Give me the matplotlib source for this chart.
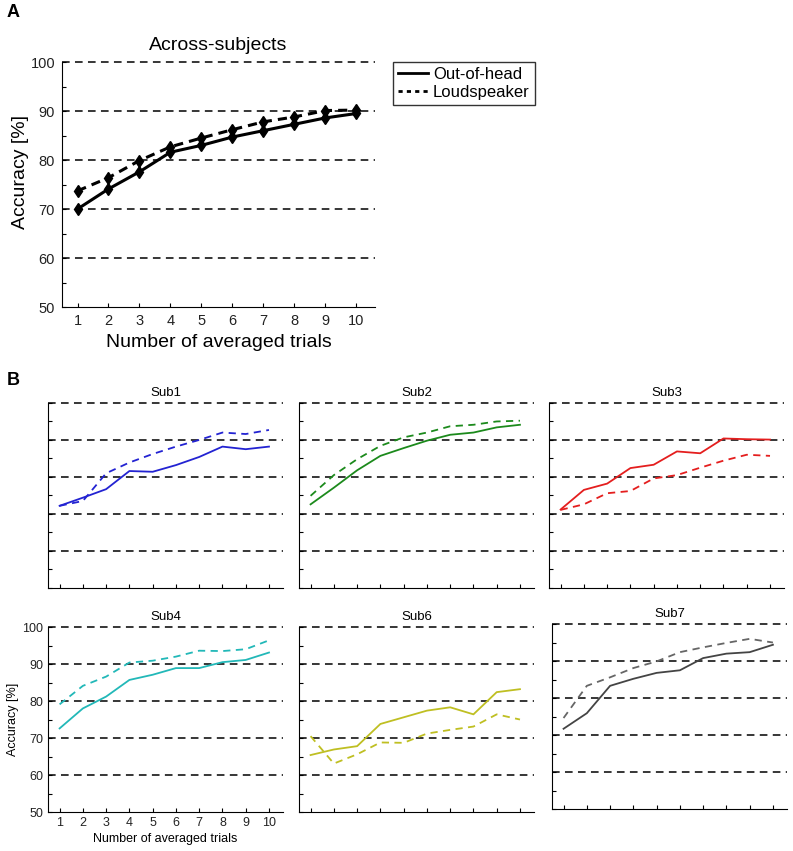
import matplotlib
matplotlib.use("Agg")
import matplotlib.pyplot as plt
import numpy as np

plt.rcParams['font.family'] = ['Liberation Sans', 'DejaVu Sans']

trials = np.arange(1, 11)

# across-subjects averages
avg_ooh = [70.0, 74.1, 77.6, 81.6, 83.0, 84.7, 86.0, 87.3, 88.6, 89.5]
avg_ls = [73.7, 76.4, 79.9, 82.7, 84.5, 86.2, 87.8, 88.8, 90.1, 90.2]

# single subjects
sub_names = ['Sub1', 'Sub2', 'Sub3', 'Sub4', 'Sub6', 'Sub7']
sub_ooh = [
    [72.2, 74.4, 76.7, 81.6, 81.4, 83.2, 85.4, 88.2, 87.5, 88.2],
    [72.6, 77.1, 81.8, 85.7, 87.8, 89.8, 91.4, 92.0, 93.4, 94.1],
    [71.2, 76.5, 78.2, 82.4, 83.3, 86.9, 86.4, 90.4, 90.2, 90.1],
    [72.6, 78.0, 81.2, 85.7, 87.1, 88.9, 88.9, 90.5, 91.1, 93.1],
    [65.4, 66.9, 67.8, 73.8, 75.6, 77.4, 78.3, 76.4, 82.4, 83.2],
    [71.7, 75.9, 83.3, 85.2, 86.8, 87.5, 90.8, 92.0, 92.4, 94.4],
]
sub_ls = [
    [72.2, 73.5, 81.0, 83.9, 86.2, 88.2, 90.0, 92.0, 91.6, 92.7],
    [74.9, 80.5, 84.8, 88.4, 90.7, 92.0, 93.7, 94.1, 95.0, 95.2],
    [71.1, 72.6, 75.6, 76.2, 79.6, 80.5, 82.5, 84.4, 86.0, 85.7],
    [79.1, 84.1, 86.6, 90.4, 90.9, 92.0, 93.6, 93.5, 94.0, 96.4],
    [70.5, 63.1, 65.6, 68.8, 68.7, 71.2, 72.2, 73.1, 76.4, 75.0],
    [74.6, 83.3, 85.6, 88.1, 89.9, 92.4, 93.7, 94.9, 96.0, 95.0],
]
sub_colors = ['#2323d2', '#1c8a1c', '#e41e1e', '#22b8b8', '#bfbf22', '#444444']
sub_ls_colors = ['#2323d2', '#1c8a1c', '#e41e1e', '#22b8b8', '#bfbf22', '#666666']

grid_levels = [60, 70, 80, 90, 100]


def style_axes(ax, labelsize, show_labels, pad=3.5):
    for s in ['top', 'right']:
        ax.spines[s].set_visible(False)
    ax.set_xlim(0.5, 10.6)
    ax.set_ylim(50, 100)
    ax.set_xticks(trials)
    ax.set_yticks(range(50, 101, 10))
    ax.set_yticks(range(55, 100, 10), minor=True)
    ax.tick_params(which='both', direction='in', length=3, width=0.8,
                   labelsize=labelsize, labelcolor='#222222', pad=pad)
    if not show_labels:
        ax.set_xticklabels([])
        ax.set_yticklabels([])
    for g in grid_levels:
        ax.axhline(g, color='black', lw=1.1, dashes=(5, 3.5), clip_on=False, zorder=1)


fig = plt.figure(figsize=(7.93, 8.51), dpi=100)

# panel A
axA = fig.add_axes([0.0782, 0.6392, 0.3947, 0.2879])
style_axes(axA, 10.5, True, pad=5)
axA.plot(trials, avg_ooh, color='black', lw=2.2, marker='d', ms=6, zorder=3)
axA.plot(trials, avg_ls, color='black', lw=2.2, ls=(0, (3, 2)), marker='d', ms=6, zorder=3)
axA.set_title('Across-subjects', fontsize=14, pad=9)
axA.set_xlabel('Number of averaged trials', fontsize=14, labelpad=4)
axA.set_ylabel('Accuracy [%]', fontsize=14)
axA.yaxis.set_label_coords(-0.105, 0.55)
h1, = axA.plot([], [], color='black', lw=2)
h2, = axA.plot([], [], color='black', lw=2, ls=(0, (1.5, 1.5)))
fig.legend([h1, h2], ['Out-of-head', 'Loudspeaker'], loc='upper left',
           bbox_to_anchor=(0.4956, 0.9271), fontsize=12, frameon=True,
           fancybox=False, edgecolor='black', handlelength=1.8,
           handletextpad=0.3, borderpad=0.3, labelspacing=0.15, borderaxespad=0)

# panel B
lefts = [0.0605, 0.3770, 0.6923, 0.0605, 0.3770, 0.6960]
bottoms = [0.3091, 0.3091, 0.3091, 0.0458, 0.0458, 0.0493]
for i, name in enumerate(sub_names):
    ax = fig.add_axes([lefts[i], bottoms[i], 0.2963, 0.2174])
    style_axes(ax, 9, name == 'Sub4')
    ax.plot(trials, sub_ooh[i], color=sub_colors[i], lw=1.3, zorder=3)
    ax.plot(trials, sub_ls[i], color=sub_ls_colors[i], lw=1.3, ls=(0, (4, 3)), zorder=3)
    ax.set_title(name, fontsize=9.5, pad=5)
    if name == 'Sub4':
        ax.set_xlabel('Number of averaged trials', fontsize=9, labelpad=3)
        ax.set_ylabel('Accuracy [%]', fontsize=9, labelpad=2)

fig.text(0.008, 0.985, 'A', fontsize=13, fontweight='bold', va='center')
fig.text(0.008, 0.553, 'B', fontsize=13, fontweight='bold', va='center')

fig.savefig('out.png', dpi=100)
